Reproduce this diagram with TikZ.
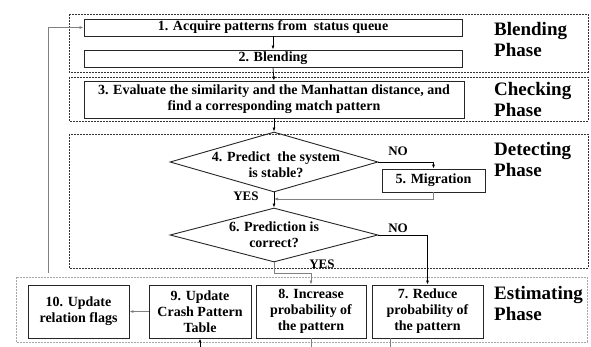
\documentclass[tikz,border=0pt]{standalone}
\usepackage{fontspec}
\setmainfont{Liberation Serif}
\usetikzlibrary{shapes.geometric,arrows.meta}
\begin{document}
\begin{tikzpicture}[x=1pt,y=-1pt,
boxS/.style={draw=black!85,line width=0.9pt,inner sep=0pt,align=center,font=\fontsize{14}{16}\selectfont\bfseries},
decS/.style={shape=diamond,draw=black!85,line width=0.9pt,inner sep=0pt},
textS/.style={align=center,inner sep=0pt,font=\fontsize{14}{16}\selectfont\bfseries},
phaseS/.style={draw=black!80,line width=0.9pt,dash pattern=on 2pt off 1pt},
phaseL/.style={anchor=north west,align=left,inner sep=0pt,font=\fontsize{19}{21}\selectfont\bfseries},
ansS/.style={inner sep=0pt,font=\fontsize{13}{15}\selectfont\bfseries},
arr/.style={-{Latex[length=4pt,width=3pt]},line width=0.7pt,draw=black},
backA/.style={arr,draw=gray},
lineS/.style={line width=0.7pt,draw=gray}]
\useasboundingbox (0,0) rectangle (591,347);
\draw[phaseS] (69,14) rectangle (588,72);
\draw[phaseS] (69,77) rectangle (588,121);
\draw[phaseS] (69,134) rectangle (588,268);
\draw[phaseS,draw=gray!70] (16,277) rectangle (587,342);

\node[phaseL] (pB) at (494,22) {Blending\\Phase};
\node[phaseL] (pC) at (494,82) {Checking\\Phase};
\node[phaseL] (pD) at (494,142) {Detecting\\Phase};
\node[phaseL] (pE) at (494,286) {Estimating\\Phase};

\node[boxS,minimum width=378pt,minimum height=17pt] (b1) at (273,27.5) {1. Acquire patterns from\ \ status queue};
\node[boxS,minimum width=378pt,minimum height=17pt] (b2) at (273,58.5) {2. Blending};
\node[boxS,minimum width=380pt,minimum height=37pt] (b3) at (274,99.5) {3. Evaluate the similarity and the Manhattan distance, and\\find a corresponding match pattern};

\node[decS,minimum width=208pt,minimum height=60pt] (d4) at (274,162) {};
\node[textS] (t4) at (276,165) {4. Predict\ \ the system\\is stable?};
\node[boxS,minimum width=103pt,minimum height=23pt] (b5) at (433.5,180.5) {5. Migration};
\node[decS,minimum width=208pt,minimum height=54pt] (d6) at (274,235) {};
\node[textS] (t6) at (274,235) {6. Prediction is\\correct?};

\node[boxS,minimum width=101pt,minimum height=53pt] (b10) at (78.5,311.5) {10. Update\\relation flags};
\node[boxS,minimum width=102pt,minimum height=53pt] (b9) at (200,311.5) {9. Update\\Crash Pattern\\Table};
\node[boxS,minimum width=110pt,minimum height=53pt] (b8) at (311,311.5) {8. Increase\\probability of\\the pattern};
\node[boxS,minimum width=111pt,minimum height=53pt] (b7) at (427.5,311.5) {7. Reduce\\probability of\\the pattern};

\node[ansS] (no4) at (398,151) {NO};
\node[ansS] (yes4) at (246,196) {YES};
\node[ansS] (no6) at (398,228) {NO};
\node[ansS] (yes6) at (322,264) {YES};

\coordinate (join) at (274,199);
\coordinate (fb) at (48,273);
\coordinate (o8) at (311,347);
\coordinate (o7) at (390,347);
\coordinate (i9) at (200,347);

\draw[arr] (b1.south) -- (b2.north);
\draw[arr] (b2.south) -- (b3.north);
\draw[arr] (b3.south) -- (d4.north);
\draw[arr] (d4.east) -| (b5.north);
\draw[backA] (b5.south) |- (join);
\draw[arr] (d4.south) -- (d6.north);
\draw[arr] (d6.east) -| (b7.north);
\draw[backA] (d6.south) -- ++(0,11) -| (b8.north);
\draw[backA] (b9.west) -- (b10.east);
\draw[backA] (fb) |- (b1.west);
\draw[lineS] (b8.south) -- (o8);
\draw[lineS] (o7 |- b7.south) -- (o7);
\draw[arr] (i9) -- (b9.south);
\end{tikzpicture}
\end{document}
